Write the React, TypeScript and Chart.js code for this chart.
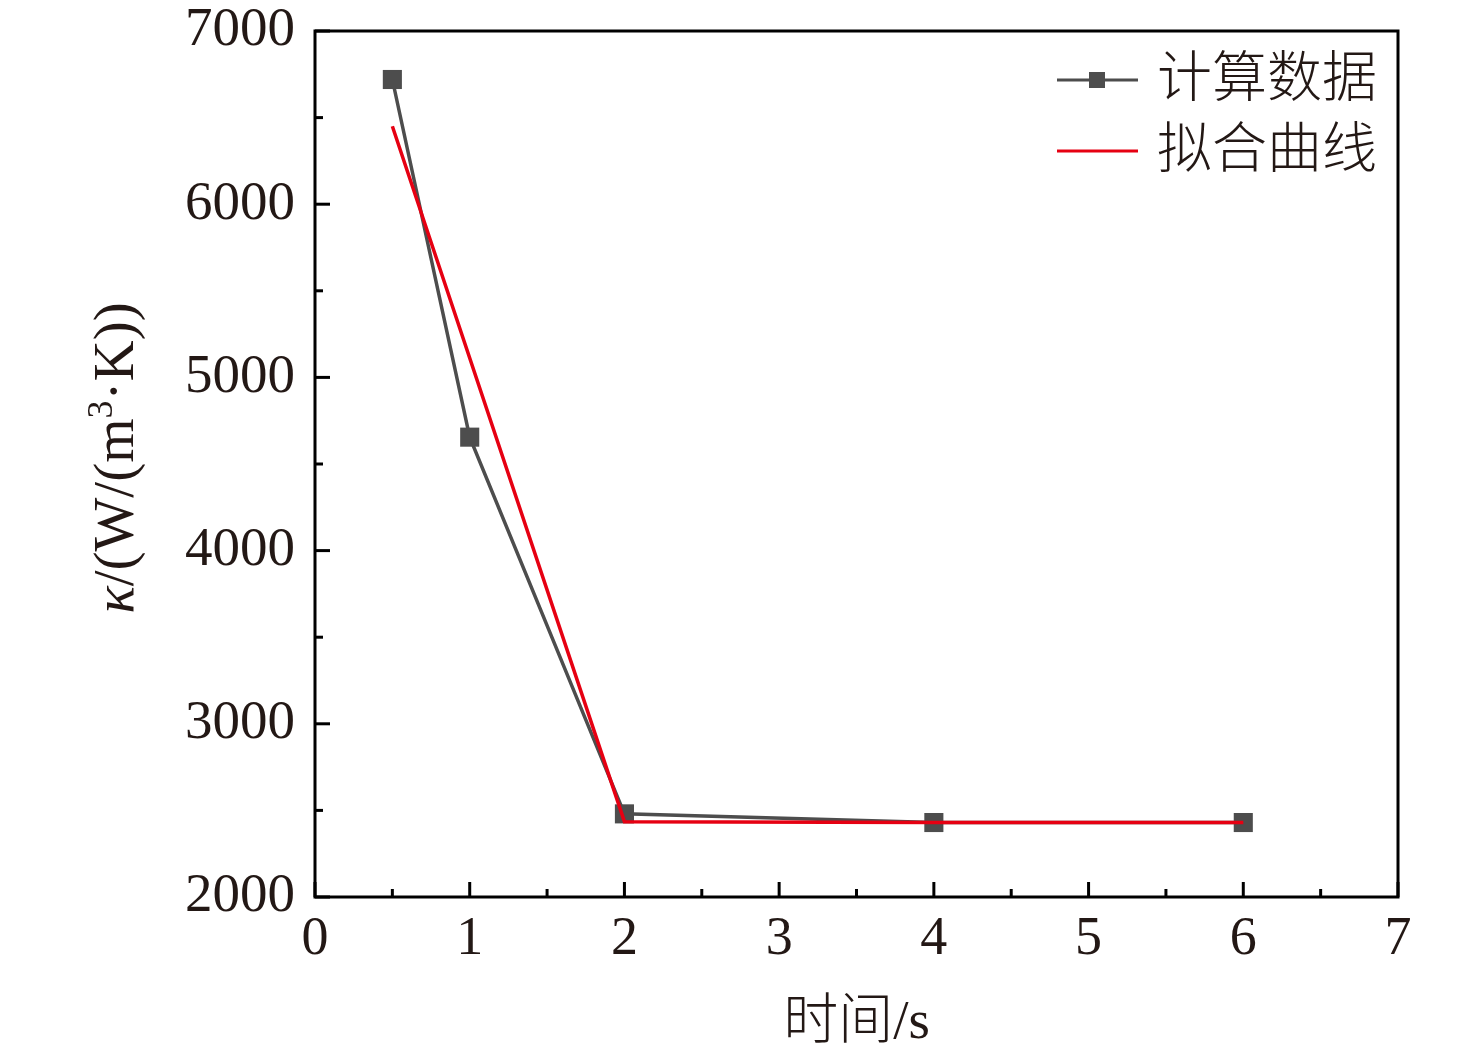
import { useEffect, useRef } from "react";
import { Chart, registerables } from "chart.js";

Chart.register(...registerables);

// ---- data ----
const times = [0.5, 1, 2, 4, 6];
const computedValues = [6720, 4655, 2480, 2430, 2430];
const fitTimes = [0.5, 2, 4, 6];
const fitValues = [6450, 2435, 2430, 2430];
const seriesLabels = ["计算数据", "拟合曲线"];
const xMajorTicks = [0, 1, 2, 3, 4, 5, 6, 7];
const xMinorTicks = [0.5, 1.5, 2.5, 3.5, 4.5, 5.5, 6.5];
const yMajorTicks = [2000, 3000, 4000, 5000, 6000, 7000];
const yMinorTicks = [2500, 3500, 4500, 5500, 6500];
const xTitle = "时间/s";
const yTitleParts = [
  { text: "κ", italic: true, sup: false },
  { text: "/(W/(m", italic: false, sup: false },
  { text: "3", italic: false, sup: true },
  { text: "·K))", italic: false, sup: false },
];

const TEXT = "#231815";
const GRAY = "#4d4d4d";
const RED = "#e60012";
const FONT = '"Liberation Serif", "Noto Sans CJK SC", serif';

const framePlugin = {
  id: "frameAndTicks",
  afterDraw(chart: any) {
    const { ctx, chartArea } = chart;
    const xs = chart.scales.x;
    const ys = chart.scales.y;
    const { left, right, top, bottom } = chartArea;
    ctx.save();
    ctx.strokeStyle = "#000";
    ctx.lineWidth = 3;
    ctx.lineCap = "butt";
    const drawX = (vals: number[], len: number) => {
      vals.forEach((v) => {
        const px = xs.getPixelForValue(v);
        ctx.beginPath();
        ctx.moveTo(px, bottom);
        ctx.lineTo(px, bottom - len);
        ctx.stroke();
      });
    };
    const drawY = (vals: number[], len: number) => {
      vals.forEach((v) => {
        const py = ys.getPixelForValue(v);
        ctx.beginPath();
        ctx.moveTo(left, py);
        ctx.lineTo(left + len, py);
        ctx.stroke();
      });
    };
    drawX(xMajorTicks, 15);
    drawX(xMinorTicks, 8);
    drawY(yMajorTicks, 15);
    drawY(yMinorTicks, 8);
    ctx.strokeRect(left, top, right - left, bottom - top);

    // y title
    ctx.fillStyle = TEXT;
    ctx.textBaseline = "middle";
    ctx.textAlign = "left";
    const size = 57;
    const supSize = 36;
    const fontFor = (p: any) =>
      `${p.italic ? "italic " : ""}${p.sup ? supSize : size}px ${FONT}`;
    let total = 0;
    const widths = yTitleParts.map((p) => {
      ctx.font = fontFor(p);
      const w = ctx.measureText(p.text).width;
      total += w;
      return w;
    });
    ctx.translate(118, (top + bottom) / 2 - 6);
    ctx.rotate(-Math.PI / 2);
    let x = -total / 2;
    yTitleParts.forEach((p, i) => {
      ctx.font = fontFor(p);
      ctx.fillText(p.text, x, p.sup ? -15 : 0);
      x += widths[i];
    });
    ctx.restore();

    // legend
    ctx.save();
    const rows = [
      { color: GRAY, marker: true, y: 80, label: seriesLabels[0] },
      { color: RED, marker: false, y: 151, label: seriesLabels[1] },
    ];
    rows.forEach((r) => {
      ctx.strokeStyle = r.color;
      ctx.lineWidth = 3;
      ctx.beginPath();
      ctx.moveTo(1057, r.y);
      ctx.lineTo(1138, r.y);
      ctx.stroke();
      if (r.marker) {
        ctx.fillStyle = r.color;
        ctx.fillRect(1097 - 8, r.y - 8, 16, 16);
      }
      ctx.fillStyle = TEXT;
      ctx.font = `300 55px ${FONT}`;
      ctx.textBaseline = "middle";
      ctx.textAlign = "left";
      ctx.fillText(r.label, 1157, r.y + 2);
    });
    ctx.restore();
  },
};

export default function App() {
  const ref = useRef<HTMLCanvasElement | null>(null);
  useEffect(() => {
    if (!ref.current) return;
    const chart = new Chart(ref.current, {
      type: "line",
      data: {
        datasets: [
          {
            label: seriesLabels[1],
            data: fitTimes.map((t, i) => ({ x: t, y: fitValues[i] })),
            borderColor: RED,
            borderWidth: 3.5,
            pointRadius: 0,
            fill: false,
            tension: 0,
            order: 0,
          },
          {
            label: seriesLabels[0],
            data: times.map((t, i) => ({ x: t, y: computedValues[i] })),
            borderColor: GRAY,
            backgroundColor: GRAY,
            borderWidth: 3.5,
            pointStyle: "rect",
            pointRadius: 13.5,
            pointBorderWidth: 0,
            pointBackgroundColor: GRAY,
            fill: false,
            tension: 0,
            order: 1,
          },
        ],
      },
      options: {
        animation: false,
        responsive: true,
        maintainAspectRatio: false,
        layout: { padding: { left: 0, top: 31, right: 78, bottom: 0 } },
        plugins: {
          legend: { display: false },
          tooltip: { enabled: false },
        },
        scales: {
          x: {
            type: "linear",
            min: 0,
            max: 7,
            grid: { display: false, drawTicks: false },
            border: { display: false },
            ticks: {
              stepSize: 1,
              padding: 10,
              color: TEXT,
              font: { family: FONT, size: 54 },
              maxRotation: 0,
              callback: (v: any) => String(v),
            },
            title: {
              display: true,
              text: xTitle,
              color: TEXT,
              font: { family: FONT, size: 55, weight: "300" as any },
              padding: { top: 0, bottom: 2 },
            },
            afterFit: (s: any) => {
              s.height = 162;
              s.paddingLeft = 0;
              s.paddingRight = 0;
            },
          },
          y: {
            type: "linear",
            min: 2000,
            max: 7000,
            grid: { display: false, drawTicks: false },
            border: { display: false },
            ticks: {
              stepSize: 1000,
              padding: 20,
              color: TEXT,
              font: { family: FONT, size: 55 },
              callback: (v: any) => String(v),
            },
            afterFit: (s: any) => {
              s.width = 315;
              s.paddingTop = 0;
              s.paddingBottom = 0;
            },
          },
        },
      },
      plugins: [framePlugin],
    });
    return () => chart.destroy();
  }, []);
  return (
    <div
      style={{
        position: "fixed",
        left: 0,
        top: 0,
        width: 1476,
        height: 1059,
        background: "#fff",
      }}
    >
      <canvas ref={ref} />
    </div>
  );
}
